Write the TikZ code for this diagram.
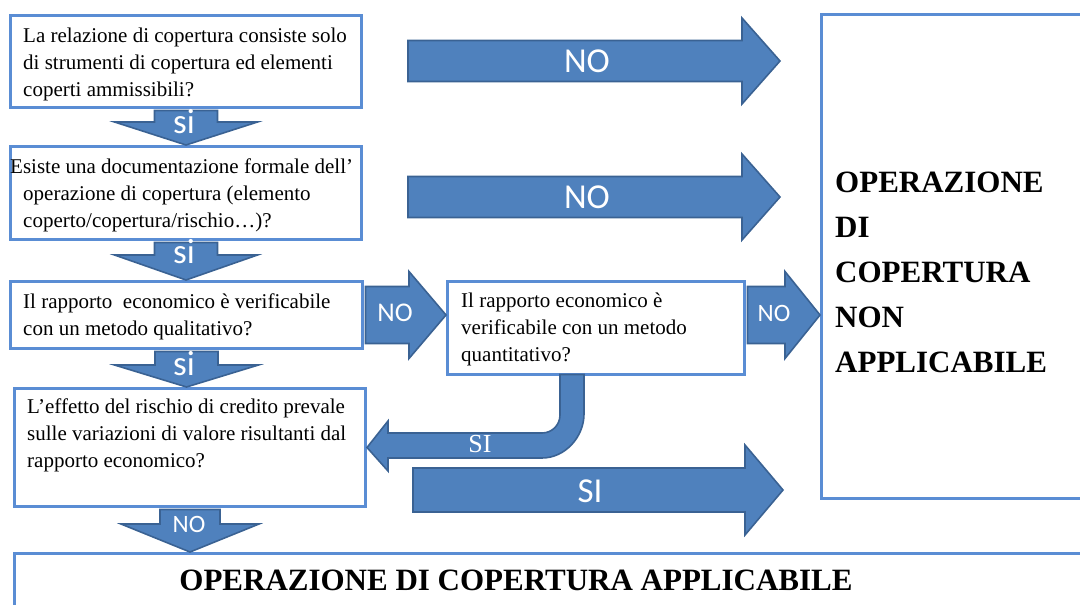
\documentclass[tikz,border=0pt]{standalone}
\usepackage{fontspec}
\setmainfont{Liberation Serif}
\newfontfamily\labelfont{Carlito}
\usepackage{xcolor}
\usetikzlibrary{calc}

\definecolor{boxblue}{HTML}{5A8DD4}
\definecolor{arrowfill}{HTML}{4F81BD}
\definecolor{arrowline}{HTML}{3A6293}

% block arrows: tail, tip, half shaft, half head, head length
\newcommand{\arrowdown}[5]{%
  \draw[blockarrow] let \p1=(#1), \p2=(#2) in
    (\x1-#3pt,\y1) -- (\x1-#3pt,\y2+#5pt) -- (\x1-#4pt,\y2+#5pt) -- (\x1,\y2)
    -- (\x1+#4pt,\y2+#5pt) -- (\x1+#3pt,\y2+#5pt) -- (\x1+#3pt,\y1) -- cycle;}
\newcommand{\arrowright}[5]{%
  \draw[blockarrow] let \p1=(#1), \p2=(#2) in
    (\x1,\y1+#3pt) -- (\x2-#5pt,\y1+#3pt) -- (\x2-#5pt,\y1+#4pt) -- (\x2,\y1)
    -- (\x2-#5pt,\y1-#4pt) -- (\x2-#5pt,\y1-#3pt) -- (\x1,\y1-#3pt) -- cycle;}

\begin{document}
\begin{tikzpicture}
                [x=1pt, y=-1pt,
                box/.style={draw=boxblue, line width=3pt, fill=white, inner sep=0pt, anchor=north west},
                blockarrow/.style={fill=arrowfill, draw=arrowline, line width=1.6pt, line join=miter},
                qtext/.style={font=\fontsize{21}{27}\selectfont, align=left, inner sep=0pt, anchor=west},
                ntext/.style={font=\fontsize{31}{45}\selectfont\bfseries, align=left, inner sep=0pt},
                lbl/.style={text=white, inner sep=0pt, font=\labelfont\fontsize{35}{35}\selectfont},
                small lbl/.style={lbl, font=\labelfont\fontsize{25}{25}\selectfont},
                ]
                \clip (0,0) rectangle (1080,605);

                \node[box, minimum width=351pt, minimum height=92pt] (q1) at (9,14) {};
                \node[box, minimum width=351pt, minimum height=93pt] (q2) at (9,145) {};
                \node[box, minimum width=352pt, minimum height=67pt] (q3) at (9,280) {};
                \node[box, minimum width=351pt, minimum height=118pt] (q4) at (13,387) {};
                \node[box, minimum width=297pt, minimum height=93pt] (qn) at (446,280) {};
                \node[box, minimum width=300pt, minimum height=484pt] (na) at (820,13) {};
                \node[box, minimum width=1100pt, minimum height=100pt] (ap) at (13,552) {};

                \node[qtext] (q1t) at ([xshift=14pt,yshift=-3pt]q1.west)
                    {La relazione di copertura consiste solo\\ di strumenti di copertura ed elementi\\ coperti ammissibili?};
                \node[qtext] (q2t) at ([xshift=14pt,yshift=-2.5pt]q2.west)
                    {\hspace*{-13pt}Esiste una documentazione formale dell’\\ operazione di copertura (elemento\\ coperto/copertura/rischio…)?};
                \node[qtext] (q3t) at ([xshift=14pt,yshift=-1.5pt]q3.west)
                    {Il rapporto\ \ economico è verificabile\\ con un metodo qualitativo?};
                \node[qtext] (q4t) at ([xshift=14pt,yshift=12pt]q4.west)
                    {L’effetto del rischio di credito prevale\\ sulle variazioni di valore risultanti dal\\ rapporto economico?};
                \node[qtext] (qnt) at ([xshift=15pt,yshift=-1.5pt]qn.west)
                    {Il rapporto economico è\\ verificabile con un metodo\\ quantitativo?};
                \node[ntext, anchor=west] (nat) at ([xshift=15pt,yshift=-15.5pt]na.west)
                    {OPERAZIONE\\ DI\\ COPERTURA\\ NON\\ APPLICABILE};
                \node[ntext] (apt) at (516,580) {OPERAZIONE DI COPERTURA APPLICABILE};

                \arrowdown{[yshift=-1.5pt]q1.south}{q2.north}{31.5}{71.5}{23}
                \arrowdown{[yshift=-1.5pt]q2.south}{q3.north}{31.5}{71.5}{25}
                \arrowdown{[yshift=-1.5pt]q3.south}{q4.north}{31.5}{72}{22}
                \arrowdown{[yshift=-1.5pt]q4.south}{ap.north}{30}{69}{28}

                \coordinate (r1) at (408,61);
                \coordinate (r1e) at (780,61);
                \coordinate (r2) at (408,197);
                \coordinate (r2e) at (780,197);
                \coordinate (r4) at (qn.east |- q3.east);
                \coordinate (r5) at (413,490);
                \coordinate (r5e) at (783,490);
                \arrowright{r1}{r1e}{20.5}{43}{38}
                \arrowright{r2}{r2e}{20.5}{43}{38}
                \arrowright{[xshift=1.5pt]q3.east}{qn.west}{28.5}{43.5}{37}
                \arrowright{[xshift=1.5pt]r4}{na.west}{28.5}{43.5}{35}
                \arrowright{r5}{r5e}{22}{45}{38}

                \draw[blockarrow] (560,374.5) -- (584,374.5) -- (584,414)
                    .. controls (584,437) and (565,458) .. (542,458) -- (388,458) -- (388,471)
                    -- (q4.east) -- (388,421) -- (388,433) -- (542,433)
                    .. controls (552,433) and (560,425) .. (560,415) -- cycle;

                \node[lbl, anchor=base] (si1) at (184,133) {si};
                \node[lbl, anchor=base] (si2) at (184,263) {si};
                \node[lbl, anchor=base] (si3) at (184,375) {si};
                \node[small lbl, anchor=base] (no4) at (189,532) {NO};
                \node[lbl] (no1) at (587,61) {NO};
                \node[lbl] (no2) at (587,197) {NO};
                \node[small lbl, font=\labelfont\fontsize{27}{27}\selectfont] (no3) at (395,313) {NO};
                \node[small lbl] (no5) at (774,313) {NO};
                \node[text=white, inner sep=0pt, font=\fontsize{26}{26}\selectfont] (si4) at (480,444) {SI};
                \node[lbl] (si5) at (590,491) {SI};
            \end{tikzpicture}
\end{document}
